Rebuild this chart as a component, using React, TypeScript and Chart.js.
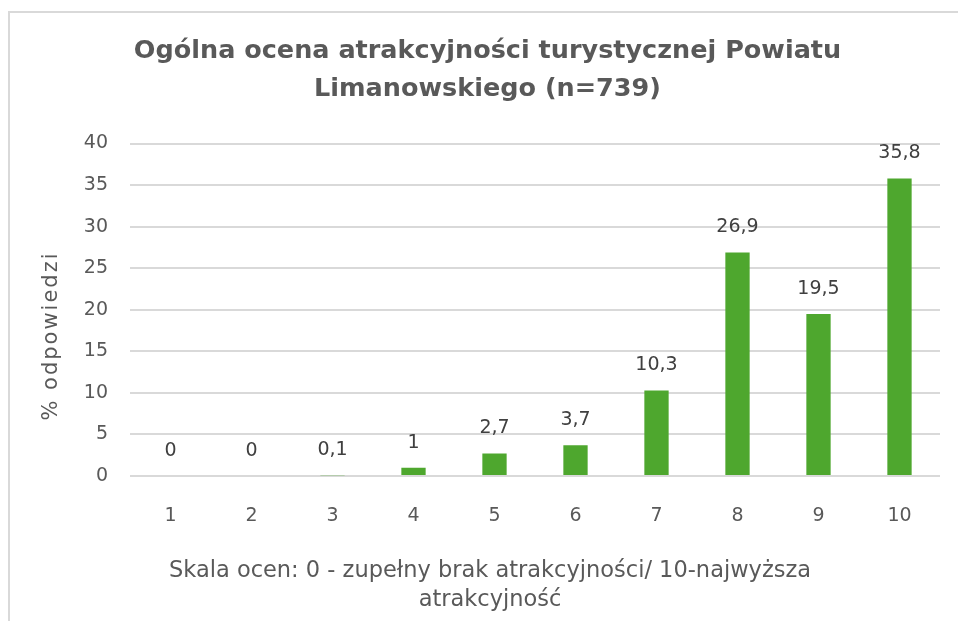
import React, { useEffect, useRef } from "react";
import { Chart, registerables } from "chart.js";

Chart.register(...registerables);

const categories = ["1", "2", "3", "4", "5", "6", "7", "8", "9", "10"];
const values = [0, 0, 0.1, 1, 2.7, 3.7, 10.3, 26.9, 19.5, 35.8];
const titleLines = ["Ogólna ocena atrakcyjności turystycznej Powiatu", "Limanowskiego (n=739)"];
const yTitle = "% odpowiedzi";
const xTitleLines = ["Skala ocen: 0 - zupełny brak atrakcyjności/ 10-najwyższa", "atrakcyjność"];

const FONT = "'DejaVu Sans', sans-serif";
const GRAY = "#595959";

const framePlugin = {
  id: "frame",
  beforeDraw(chart: any) {
    const ctx = chart.ctx;
    ctx.save();
    ctx.strokeStyle = "#d9d9d9";
    ctx.lineWidth = 2;
    ctx.beginPath();
    ctx.moveTo(9, 640);
    ctx.lineTo(9, 12);
    ctx.lineTo(980, 12);
    ctx.stroke();
    ctx.restore();
  },
};

const labelPlugin = {
  id: "barLabels",
  afterDatasetsDraw(chart: any) {
    const ctx = chart.ctx;
    const meta = chart.getDatasetMeta(0);
    ctx.save();
    ctx.fillStyle = "#404040";
    ctx.font = `19px ${FONT}`;
    ctx.textAlign = "center";
    ctx.textBaseline = "middle";
    meta.data.forEach((el: any, i: number) => {
      const txt = String(values[i]).replace(".", ",");
      ctx.fillText(txt, el.x, el.y - 25);
    });
    ctx.restore();
  },
};

const axisTitlePlugin = {
  id: "axisTitles",
  afterDraw(chart: any) {
    const ctx = chart.ctx;
    ctx.save();
    ctx.fillStyle = GRAY;
    ctx.textAlign = "center";
    ctx.textBaseline = "alphabetic";
    ctx.font = `22.5px ${FONT}`;
    ctx.fillText(xTitleLines[0], 490, 577);
    ctx.fillText(xTitleLines[1], 490, 606);
    ctx.translate(57, 336);
    ctx.rotate(-Math.PI / 2);
    ctx.font = `21px ${FONT}`;
    try {
      (ctx as any).letterSpacing = "2px";
    } catch (e) {}
    ctx.fillText(yTitle, 0, 0);
    ctx.restore();
  },
};

export default function App() {
  const ref = useRef<HTMLCanvasElement>(null);
  useEffect(() => {
    document.body.style.overflow = "hidden";
    const chart = new Chart(ref.current!, {
      type: "bar",
      data: {
        labels: categories,
        datasets: [
          {
            data: values,
            backgroundColor: "#4EA72E",
            barPercentage: 0.3,
            categoryPercentage: 1,
          },
        ],
      },
      options: {
        responsive: false,
        animation: false,
        layout: { padding: { left: 35, right: 18, top: 0, bottom: 0 } },
        plugins: {
          legend: { display: false },
          tooltip: { enabled: false },
          title: {
            display: true,
            text: titleLines,
            color: GRAY,
            font: { family: FONT, size: 25.5, weight: "bold", lineHeight: 1.5 },
            padding: { top: 32, bottom: 35 },
          },
        },
        scales: {
          x: {
            grid: { display: false },
            border: { display: false },
            ticks: { color: GRAY, font: { family: FONT, size: 19 }, padding: 21 },
            afterFit: (s: any) => {
              s.height = 145;
            },
          },
          y: {
            min: 0,
            max: 40,
            ticks: { stepSize: 5, color: GRAY, font: { family: FONT, size: 19 }, padding: 22 },
            grid: { color: "#d9d9d9", lineWidth: 2, drawTicks: false },
            border: { display: false },
            afterFit: (s: any) => {
              s.width = 95;
            },
          },
        },
      },
      plugins: [framePlugin, labelPlugin, axisTitlePlugin],
    } as any);
    return () => chart.destroy();
  }, []);
  return (
    <div style={{ position: "fixed", left: 0, top: 0, width: 958, height: 621, background: "#fff" }}>
      <canvas ref={ref} width={958} height={621} />
    </div>
  );
}
